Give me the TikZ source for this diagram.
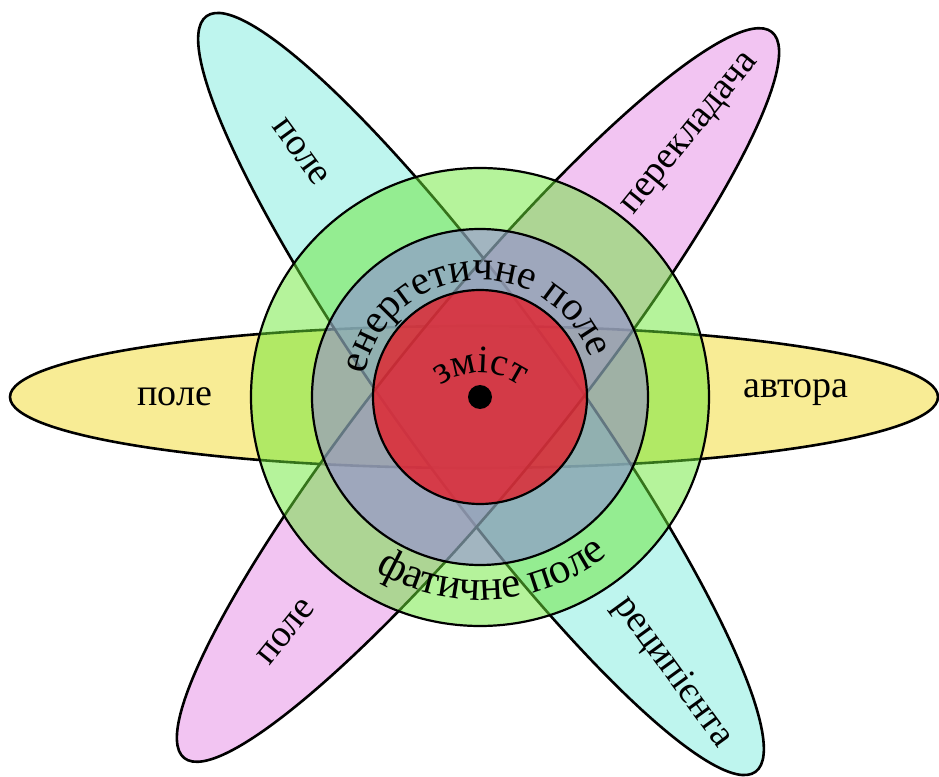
\documentclass[tikz,border=0pt]{standalone}
\usepackage{fontspec}
\setmainfont{Liberation Serif}
\usetikzlibrary{decorations.text}
\definecolor{yel}{RGB}{243,223,78}
\definecolor{pnk}{RGB}{233,157,233}
\definecolor{cyn}{RGB}{147,238,226}
\definecolor{grn}{RGB}{107,231,55}
\definecolor{blu}{RGB}{143,121,229}
\definecolor{rd}{RGB}{238,14,24}
\newcommand{\arcfont}{\fontsize{41}{44}\selectfont}
\newcommand{\lowfont}{\fontsize{43}{46}\selectfont}
\newcommand{\midfont}{\fontsize{39}{42}\selectfont}
\tikzset{
  lobe/.style={draw=black, line width=2.6pt, fill opacity=0.6},
  ring/.style={draw=black, line width=2.2pt, fill opacity=0.5},
  lbl/.style={font=\fontsize{38}{40}\selectfont, inner sep=0pt},
  arctxt/.style={decorate, decoration={text along path, text align=center, text format delimiters={|}{|}}},
}

\begin{document}
\begin{tikzpicture}[x=1pt, y=1pt]
  \useasboundingbox (-480,-379) rectangle (459,397);
  % lobes
  \draw[lobe, fill=yel] (-6,0) ellipse [x radius=464, y radius=71];
  \draw[lobe, fill=cyn, shift={(1,3)}, rotate=-54] (0,0) ellipse [x radius=467, y radius=84];
  \draw[lobe, fill=pnk, shift={(-2,2)}, rotate=51] (0,0) ellipse [x radius=467, y radius=84];

  % fields
  \draw[ring, fill=grn] (0,0) circle (229);
  \draw[ring, fill=blu] (0,0) circle (168);
  \draw[ring, fill=rd, fill opacity=0.7] (0,0) circle (107);
  \node[circle, fill=black, minimum size=24pt, inner sep=0pt] (core) at (0,0) {};

  % lobe labels
  \node[lbl] (west) at (-305,0) {поле};
  \node[lbl] (east) at (316,4) {автора};
  \node[lbl, rotate=-54] (northwest) at (-179,245) {поле};
  \node[lbl, rotate=51] (northeast) at (212,262) {перекладача};
  \node[lbl, rotate=51] (southwest) at (-194,-235) {поле};
  \node[lbl, rotate=-54] (southeast) at (193,-275) {реципієнта};

  % ring labels
  \path[arctxt, decoration={text={|\arcfont|енергетичне поле}}]
    (192:117) arc [start angle=192, end angle=-4, radius=117];
  \path[arctxt, decoration={text={|\lowfont|фатичне поле}}]
    (210:203) arc [start angle=210, end angle=338, radius=203];
  \path[arctxt, decoration={text={|\midfont|зміст}}]
    ([shift={(175:66)}]0,-42) arc [start angle=175, end angle=5, radius=66];
\end{tikzpicture}
\end{document}
